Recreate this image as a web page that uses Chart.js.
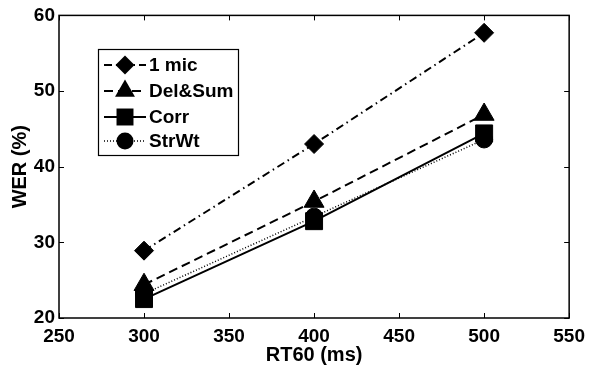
<!DOCTYPE html>
<html>
<head>
<meta charset="utf-8">
<script src="https://cdn.jsdelivr.net/npm/chart.js@4/dist/chart.umd.min.js"></script>
<style>
  body { margin: 0; background: #fff; }
  canvas { display: block; }
</style>
</head>
<body>
<canvas id="myChart" width="592" height="368"></canvas>
<script>
// RT60 values (ms) and WER (%) for each method
const rt60 = [300, 400, 500];
const oneMic = [28.9, 43.0, 57.7];
const delSum = [24.4, 35.4, 46.9];
const corr = [22.5, 32.8, 44.4];
const strWt = [23.2, 33.4, 43.6];

const xTicks = [250, 300, 350, 400, 450, 500, 550];
const yTicks = [20, 30, 40, 50, 60];

const FONT = 'Liberation Sans, Arial, Helvetica, sans-serif';

function toPoints(values) {
    return values.map(function(v, i) {
        return { x: rt60[i], y: v };
    });
}

function makeSet(label, values, style, radius, dash, width) {
    return {
        label: label,
        data: toPoints(values),
        borderColor: '#000',
        backgroundColor: '#000',
        pointBackgroundColor: '#000',
        pointBorderColor: '#000',
        pointBorderWidth: 1,
        pointStyle: style,
        pointRadius: radius,
        borderDash: dash,
        borderWidth: width,
        tension: 0,
        fill: false
    };
}

var datasets = [
    makeSet('1 mic', oneMic, 'rectRot', 9.5, [8, 4, 1.5, 4], 2),
    makeSet('Del&Sum', delSum, 'triangle', 11.5, [9, 5], 2),
    makeSet('Corr', corr, 'rect', 12, [], 2),
    makeSet('StrWt', strWt, 'circle', 8.5, [1, 2], 1.5)
];

// little marker painter for the legend box
function drawMarker(ctx, style, r, x, y) {
    ctx.beginPath();
    if (style === 'rectRot') {
        ctx.moveTo(x, y - r); ctx.lineTo(x + r, y); ctx.lineTo(x, y + r); ctx.lineTo(x - r, y);
    } else if (style === 'triangle') {
        ctx.moveTo(x, y - r);
        ctx.lineTo(x + r * Math.sin(Math.PI * 2 / 3), y + r / 2);
        ctx.lineTo(x - r * Math.sin(Math.PI * 2 / 3), y + r / 2);
    } else if (style === 'rect') {
        var s = r * Math.SQRT1_2;
        ctx.rect(x - s, y - s, 2 * s, 2 * s);
    } else {
        ctx.arc(x, y, r, 0, Math.PI * 2);
    }
    ctx.closePath();
    ctx.fill();
}

const framePlugin = {
    id: 'matlabFrame',
    afterDraw: function(chart) {
        var ctx = chart.ctx;
        var a = chart.chartArea;
        var xs = chart.scales.x, ys = chart.scales.y;
        ctx.save();
        ctx.strokeStyle = '#000';
        ctx.lineWidth = 1.5;
        ctx.setLineDash([]);
        ctx.strokeRect(a.left, a.top, a.right - a.left, a.bottom - a.top);

        // inward ticks on all four sides
        var tl = 5;
        ctx.lineWidth = 1;
        ctx.beginPath();
        xTicks.forEach(function(t) {
            var px = Math.round(xs.getPixelForValue(t)) + 0.5;
            ctx.moveTo(px, a.bottom); ctx.lineTo(px, a.bottom - tl);
            ctx.moveTo(px, a.top); ctx.lineTo(px, a.top + tl);
        });
        yTicks.forEach(function(t) {
            var py = Math.round(ys.getPixelForValue(t)) + 0.5;
            ctx.moveTo(a.left, py); ctx.lineTo(a.left + tl, py);
            ctx.moveTo(a.right, py); ctx.lineTo(a.right - tl, py);
        });
        ctx.stroke();

        // legend box
        var bx = 98, by = 49, bw = 140, bh = 106;
        ctx.fillStyle = '#fff';
        ctx.fillRect(bx, by, bw, bh);
        ctx.lineWidth = 1.2;
        ctx.strokeRect(bx + 0.5, by + 0.5, bw, bh);

        var rows = [65, 91, 117, 141];
        chart.data.datasets.forEach(function(ds, i) {
            var y = rows[i];
            ctx.strokeStyle = '#000';
            ctx.fillStyle = '#000';
            ctx.lineWidth = ds.borderWidth;
            ctx.setLineDash(ds.borderDash);
            ctx.beginPath();
            ctx.moveTo(104, y);
            ctx.lineTo(146, y);
            ctx.stroke();
            ctx.setLineDash([]);
            drawMarker(ctx, ds.pointStyle, ds.pointRadius, 125, y);
            ctx.font = 'bold 19px ' + FONT;
            ctx.textBaseline = 'middle';
            ctx.textAlign = 'left';
            ctx.fillText(ds.label, 149, y + 1);
        });
        ctx.restore();
    }
};

var ctx = document.getElementById('myChart').getContext('2d');
new Chart(ctx, {
    type: 'line',
    data: { datasets: datasets },
    options: {
        responsive: false,
        animation: false,
        layout: { padding: { top: 13, right: 20, left: 0, bottom: 0 } },
        plugins: {
            legend: { display: false },
            tooltip: { enabled: false }
        },
        scales: {
            x: {
                type: 'linear',
                min: 250,
                max: 550,
                grid: { display: false, drawTicks: false },
                border: { display: false },
                afterFit: function(scale) { scale.height = 50; },
                afterBuildTicks: function(scale) {
                    scale.ticks = xTicks.map(function(v) { return { value: v }; });
                },
                ticks: {
                    color: '#000',
                    padding: 7,
                    maxRotation: 0,
                    font: { family: FONT, size: 19, weight: 'bold' }
                },
                title: {
                    display: true,
                    text: 'RT60 (ms)',
                    color: '#000',
                    font: { family: FONT, size: 20, weight: 'bold', lineHeight: 1 },
                    padding: { top: 0, bottom: 3 }
                }
            },
            y: {
                min: 20,
                max: 60,
                grid: { display: false, drawTicks: false },
                border: { display: false },
                afterFit: function(scale) { scale.width = 59; },
                afterBuildTicks: function(scale) {
                    scale.ticks = yTicks.map(function(v) { return { value: v }; });
                },
                ticks: {
                    color: '#000',
                    padding: 4,
                    font: { family: FONT, size: 19, weight: 'bold' }
                },
                title: {
                    display: true,
                    text: 'WER (%)',
                    color: '#000',
                    font: { family: FONT, size: 20, weight: 'bold', lineHeight: 1 },
                    padding: { top: 10, bottom: 0 }
                }
            }
        }
    },
    plugins: [framePlugin]
});
</script>
</body>
</html>
